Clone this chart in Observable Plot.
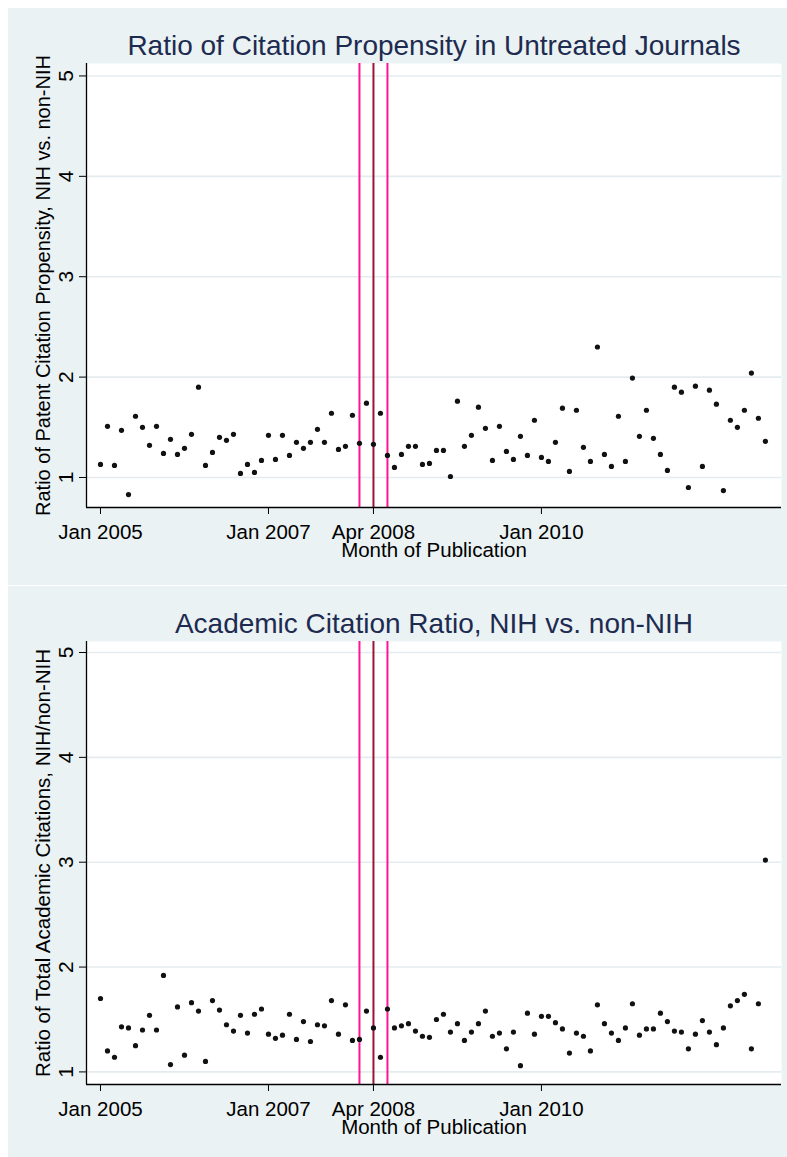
<!DOCTYPE html>
<html>
<head>
<meta charset="utf-8">
<script src="https://cdn.jsdelivr.net/npm/d3@7"></script>
<script src="https://cdn.jsdelivr.net/npm/@observablehq/plot@0.6"></script>
<style>
  html, body { margin: 0; padding: 0; background: #ffffff; }
  body { width: 787px; height: 1157px; position: relative; overflow: hidden; font-family: "Liberation Sans", Arial, Helvetica, sans-serif; }
  .panel { position: absolute; left: 8px; width: 779px; background: #EAF2F3; overflow: hidden; }
  .panel svg { position: absolute; left: 0; top: 0; }
</style>
</head>
<body>
<div id="p1" class="panel" style="top:8px;height:577px;"></div>
<div id="p2" class="panel" style="top:586px;height:571px;"></div>
<script>
// Monthly values in plotting order (96 periods starting Jan 2005)
const patentRatio = [
  1.13, 1.51, 1.12, 1.47, 0.83, 1.61, 1.50, 1.32, 1.51, 1.24, 1.38, 1.23,
  1.29, 1.43, 1.90, 1.12, 1.25, 1.40, 1.37, 1.43, 1.04, 1.13, 1.05, 1.17,
  1.42, 1.18, 1.42, 1.22, 1.35, 1.29, 1.35, 1.48, 1.35, 1.64, 1.28, 1.31,
  1.62, 1.34, 1.74, 1.33, 1.64, 1.22, 1.10, 1.23, 1.31, 1.31, 1.13, 1.14,
  1.27, 1.27, 1.01, 1.76, 1.31, 1.42, 1.70, 1.49, 1.17, 1.51, 1.26, 1.18,
  1.41, 1.22, 1.57, 1.20, 1.16, 1.35, 1.69, 1.06, 1.67, 1.30, 1.16, 2.30,
  1.23, 1.11, 1.61, 1.16, 1.99, 1.41, 1.67, 1.39, 1.23, 1.07, 1.90, 1.85,
  0.90, 1.91, 1.11, 1.87, 1.73, 0.87, 1.57, 1.50, 1.67, 2.04, 1.59, 1.36
];
const academicRatio = [
  1.70, 1.20, 1.14, 1.43, 1.42, 1.25, 1.40, 1.54, 1.40, 1.92, 1.07, 1.62,
  1.16, 1.66, 1.58, 1.10, 1.68, 1.59, 1.45, 1.39, 1.54, 1.37, 1.55, 1.60,
  1.36, 1.32, 1.35, 1.55, 1.31, 1.48, 1.29, 1.45, 1.44, 1.68, 1.36, 1.64,
  1.30, 1.31, 1.58, 1.42, 1.14, 1.60, 1.42, 1.44, 1.46, 1.39, 1.34, 1.33,
  1.50, 1.55, 1.38, 1.46, 1.30, 1.38, 1.46, 1.58, 1.34, 1.37, 1.22, 1.38,
  1.06, 1.56, 1.36, 1.53, 1.53, 1.47, 1.41, 1.18, 1.37, 1.34, 1.20, 1.64,
  1.46, 1.37, 1.30, 1.42, 1.65, 1.35, 1.41, 1.41, 1.56, 1.48, 1.39, 1.38,
  1.22, 1.36, 1.49, 1.38, 1.26, 1.42, 1.63, 1.68, 1.74, 1.22, 1.65, 3.02
];
const tickMonths = [0, 24, 39, 63];
const tickLabels = ["Jan 2005", "Jan 2007", "Apr 2008", "Jan 2010"];
const yTicks = [1, 2, 3, 4, 5];
const pinkLineMonths = [37, 41];
const maroonLineMonths = [39];

const FONT = '"Liberation Sans", Arial, Helvetica, sans-serif';
const xDomain = [-2, 97.3];

function panel(values, cfg) {
  const data = values.map((v, i) => ({month: i, value: v}));
  const [y0, y1] = cfg.yDomain;
  return Plot.plot({
    width: 779,
    height: cfg.height,
    marginLeft: 78,
    marginRight: 6,
    marginTop: 55,
    marginBottom: cfg.marginBottom,
    style: {background: "transparent", fontFamily: FONT, color: "#000"},
    x: {type: "linear", domain: xDomain, axis: null},
    y: {type: "linear", domain: cfg.yDomain, axis: null},
    marks: [
      Plot.frame({fill: "#ffffff", stroke: null}),
      Plot.gridY(yTicks, {stroke: "#E4ECEF", strokeOpacity: 1, strokeWidth: 1.6}),
      Plot.ruleX(pinkLineMonths, {stroke: "#FF1493", strokeWidth: 2}),
      Plot.ruleX(maroonLineMonths, {stroke: "#9A1535", strokeWidth: 2}),
      Plot.dot(data, {x: "month", y: "value", r: 2.6, fill: "#111111", stroke: null}),
      Plot.ruleX([xDomain[0]], {y1: y0, y2: y1, stroke: "#000", strokeWidth: 1.3}),
      Plot.ruleY([y0], {x1: xDomain[0], x2: xDomain[1], stroke: "#000", strokeWidth: 1.3}),
      Plot.axisY(yTicks, {
        anchor: "left", tickSize: 7, tickRotate: -90, tickPadding: 7,
        tickFormat: (d) => String(d),
        fontSize: 21, stroke: "#000", fill: "#000", label: null
      }),
      Plot.axisX(tickMonths, {
        anchor: "bottom", tickSize: 7, tickPadding: 10,
        tickFormat: (d) => tickLabels[tickMonths.indexOf(d)],
        fontSize: 20.5, stroke: "#000", fill: "#000", label: null
      }),
      Plot.text([cfg.title], {
        frameAnchor: "top", dy: -9, lineAnchor: "bottom", textAnchor: "middle",
        fontSize: 28, fill: "#1E2B50", text: (d) => d
      }),
      Plot.text(["Month of Publication"], {
        frameAnchor: "bottom", dy: 49, lineAnchor: "bottom", textAnchor: "middle",
        fontSize: 20.5, fill: "#000", text: (d) => d
      }),
      Plot.text([cfg.yLabel], {
        frameAnchor: "left", dx: -37, rotate: -90, lineAnchor: "bottom", textAnchor: "middle",
        fontSize: cfg.yLabelSize, fill: "#000", text: (d) => d
      })
    ]
  });
}

document.getElementById("p1").appendChild(panel(patentRatio, {
  height: 577,
  marginBottom: 78,
  yDomain: [0.701, 5.124],
  yLabelSize: 20,
  title: "Ratio of Citation Propensity in Untreated Journals",
  yLabel: "Ratio of Patent Citation Propensity, NIH vs. non-NIH"
}));
document.getElementById("p2").appendChild(panel(academicRatio, {
  height: 571,
  marginBottom: 73,
  yDomain: [0.88, 5.105],
  yLabelSize: 20.5,
  title: "Academic Citation Ratio, NIH vs. non-NIH",
  yLabel: "Ratio of Total Academic Citations, NIH/non-NIH"
}));
</script>
</body>
</html>
